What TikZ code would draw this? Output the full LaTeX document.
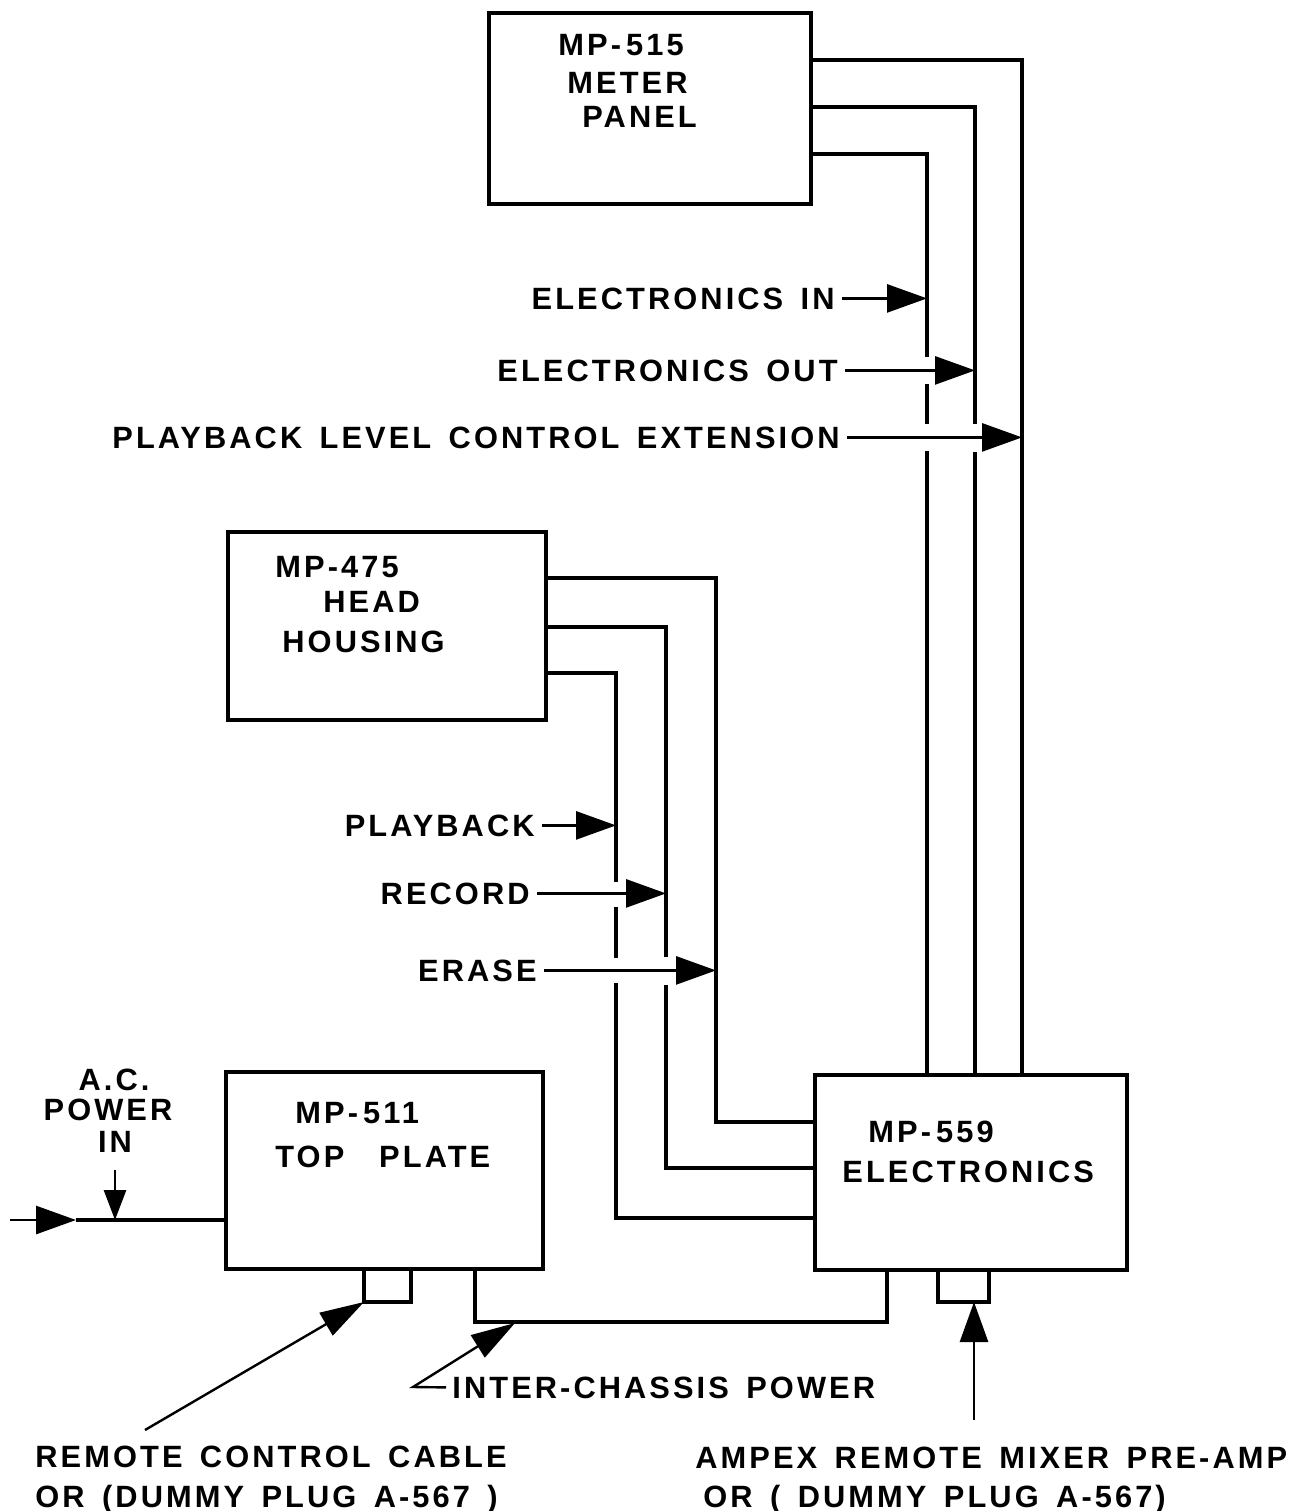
\documentclass[tikz,border=0pt]{standalone}
\usepackage{fontspec}
\newfontfamily\lfont{Liberation Sans}[LetterSpace=10,WordSpace=1.5]
\usetikzlibrary{arrows.meta}
\begin{document}
\begin{tikzpicture}[x=0.5pt,y=-0.5pt,
  wire/.style={line width=1.8pt},
  box/.style={draw, line width=1.8pt, rectangle, inner sep=0pt, outer sep=0pt},
  lbl/.style={inner sep=0pt, font=\lfont\bfseries\fontsize{15.4}{18}\selectfont},
  arrw/.style={line width=1.4pt, -{Triangle[length=20pt,width=14pt]}},
  arrsmall/.style={line width=1.4pt, -{Triangle[length=15pt,width=11pt]}},
  arrthin/.style={line width=1.2pt, -{Triangle[length=22pt,width=13pt]}},
  gapmask/.style={fill=white, draw=none}
  ]
\useasboundingbox (0,0) rectangle (1304,1511);
\fill[white] (0,0) rectangle (1304,1511);

% boxes
\node[box, minimum width=161pt, minimum height=95.5pt] (m515) at (650,108.5) {};
\node[box, minimum width=159pt, minimum height=94pt] (m475) at (387,626) {};
\node[box, minimum width=158.5pt, minimum height=98.5pt] (m511) at (384.5,1170.5) {};
\node[box, minimum width=156pt, minimum height=97.5pt] (m559) at (971,1172.5) {};
\node[box, minimum width=23.5pt, minimum height=16.5pt] (c511) at (387.5,1285.5) {};
\node[box, minimum width=25.5pt, minimum height=16pt] (c559) at (963.5,1286) {};

% box texts
\node[lbl, anchor=base west] (t515a) at (558,55) {MP-\,515};
\node[lbl, anchor=base west] (t515b) at (567,93) {METER};
\node[lbl, anchor=base west] (t515c) at (582,127) {PANEL};
\node[lbl, anchor=base west] (t475a) at (275,577) {MP-475};
\node[lbl, anchor=base west] (t475b) at (323,612) {HEAD};
\node[lbl, anchor=base west] (t475c) at (282,652) {HOUSING};
\node[lbl, anchor=base west] (t511a) at (295,1123) {MP-\,511};
\node[lbl, anchor=base west] (t511b) at (275,1167) {TOP\ \ PLATE};
\node[lbl, anchor=base west] (t559a) at (868,1142) {MP-\,559};
\node[lbl, anchor=base west] (t559b) at (842,1182) {ELECTRONICS};

% A.C. power
\node[lbl, anchor=base] (ac1) at (114,1090) {A.C.};
\node[lbl, anchor=base] (ac2) at (108,1120) {POWER};
\node[lbl, anchor=base] (ac3) at (115,1152) {IN};

% signal labels
\node[lbl, anchor=base east] (lein) at (835,309) {ELECTRONICS IN};
\node[lbl, anchor=base east] (leout) at (838,381) {ELECTRONICS OUT};
\node[lbl, anchor=base east] (lplc) at (840,448) {PLAYBACK LEVEL CONTROL EXTENSION};
\node[lbl, anchor=base east] (lpb) at (535,836) {PLAYBACK};
\node[lbl, anchor=base east] (lrec) at (530,904) {RECORD};
\node[lbl, anchor=base east] (lera) at (537,981) {ERASE};
\node[lbl, anchor=base west] (lic) at (452,1398) {INTER-CHASSIS POWER};
\node[lbl, anchor=base west] (rc1) at (35,1467) {REMOTE CONTROL CABLE};
\node[lbl, anchor=base west] (rc2) at (35,1507) {OR (DUMMY PLUG A-567 )};
\node[lbl, anchor=base west] (am1) at (695,1468) {AMPEX REMOTE MIXER PRE-AMP};
\node[lbl, anchor=base west] (am2) at (703,1507) {OR ( DUMMY PLUG A-567)};

% coordinates
\coordinate (vA) at (1022,0);
\coordinate (vB) at (975,0);
\coordinate (vC) at (927,0);
\coordinate (hA) at (0,60);
\coordinate (hB) at (0,107);
\coordinate (hC) at (0,154);
\coordinate (v1) at (716,0);
\coordinate (v2) at (666,0);
\coordinate (v3) at (616,0);
\coordinate (h1) at (0,578);
\coordinate (h2) at (0,627);
\coordinate (h3) at (0,673);
\coordinate (k1) at (0,1122);
\coordinate (k2) at (0,1168);
\coordinate (k3) at (0,1218);

% meter panel wiring
\draw[wire] (m515.east |- hA) -| (vA |- m559.north);
\draw[wire] (m515.east |- hB) -| (vB |- m559.north);
\draw[wire] (m515.east |- hC) -| (vC |- m559.north);
% head housing wiring
\draw[wire] (m475.east |- h1) -| (v1 |- k1) -- (m559.west |- k1);
\draw[wire] (m475.east |- h2) -| (v2 |- k2) -- (m559.west |- k2);
\draw[wire] (m475.east |- h3) -| (v3 |- k3) -- (m559.west |- k3);

% breaks in crossed lines
\path[gapmask] (921,357) rectangle (933,384);
\path[gapmask] (921,424) rectangle (933,451);
\path[gapmask] (969,424) rectangle (981,452);
\path[gapmask] (610,882) rectangle (622,907);
\path[gapmask] (610,958) rectangle (622,983);
\path[gapmask] (660,957) rectangle (672,985);

% signal arrows
\draw[arrw] ([xshift=3.5pt]lein.east) -- (vC |- lein.east);
\draw[arrw] ([xshift=3.5pt]leout.east) -- (vB |- leout.east);
\draw[arrw] ([xshift=3.5pt]lplc.east) -- (vA |- lplc.east);
\draw[arrw] ([xshift=3.5pt]lpb.east) -- (v3 |- lpb.east);
\draw[arrw] ([xshift=3.5pt]lrec.east) -- (v2 |- lrec.east);
\draw[arrw] ([xshift=3.5pt]lera.east) -- (v1 |- lera.east);

% AC power in
\coordinate (acs) at (10,1220);
\coordinate (acm) at (76,1220);
\draw[arrw] (acs) -- (acm);
\draw[wire] (acm) -- (m511.west |- acm);
\draw[arrsmall] ([yshift=-9pt]ac3.south) -- (ac3.south |- acs);

% inter-chassis power
\coordinate (ic1) at (475,0);
\coordinate (ic2) at (887,0);
\coordinate (icy) at (0,1322);
\draw[wire] (m511.south -| ic1) -- (ic1 |- icy) -| (m559.south -| ic2);
\coordinate (icc) at (413,1387);
\coordinate (ict) at (515,1323);
\draw[arrthin] ([xshift=-3pt]lic.west) -- (icc) -- (ict);

% remote control cable
\coordinate (rct) at (145,1430);
\draw[arrthin] (rct) -- (c511.south west);

% ampex remote mixer
\coordinate (amp) at (974,1420);
\draw[arrw] (amp) -- (c559.south -| amp);
\end{tikzpicture}
\end{document}
